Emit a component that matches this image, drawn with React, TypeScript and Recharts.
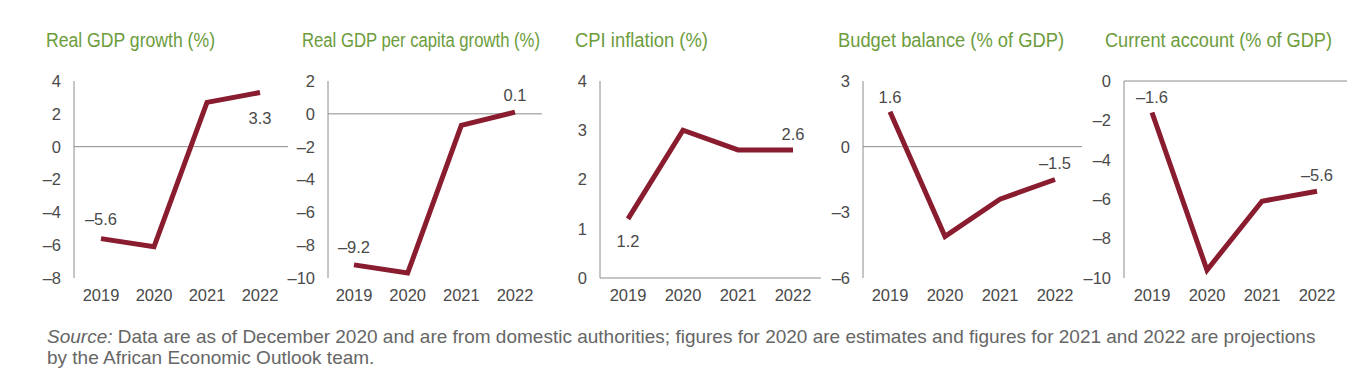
import { LineChart, Line, XAxis, YAxis, ReferenceLine } from 'recharts';

const years = ['2019', '2020', '2021', '2022'];

const gdpGrowth = [-5.6, -6.1, 2.7, 3.3];
const gdpPerCapitaGrowth = [-9.2, -9.7, -0.7, 0.1];
const cpiInflation = [1.2, 3.0, 2.6, 2.6];
const budgetBalance = [1.6, -4.1, -2.4, -1.5];
const currentAccount = [-1.6, -9.6, -6.1, -5.6];

const gdpTicks = [-8, -6, -4, -2, 0, 2, 4];
const perCapitaTicks = [-10, -8, -6, -4, -2, 0, 2];
const cpiTicks = [0, 1, 2, 3, 4];
const budgetTicks = [-6, -3, 0, 3];
const accountTicks = [-10, -8, -6, -4, -2, 0];

const titles = [
  'Real GDP growth (%)',
  'Real GDP per capita growth (%)',
  'CPI inflation (%)',
  'Budget balance (% of GDP)',
  'Current account (% of GDP)',
];

const LINE_COLOR = '#8a1c2f';
const AXIS_COLOR = '#8c8c8c';
const TEXT_COLOR = '#4a4a4a';
const TITLE_COLOR = '#6c9c3c';
const FONT = '"Liberation Sans", Arial, sans-serif';

// layout of each small panel (page pixels)
const panels = [
  { values: gdpGrowth, ticks: gdpTicks, axisX: 74, axisEnd: 288, pad: [27, 28], labelDy: [-20, 26], titleX: 46, titleW: 169 },
  { values: gdpPerCapitaGrowth, ticks: perCapitaTicks, axisX: 328, axisEnd: 542, pad: [26, 27], labelDy: [-18, -17], titleX: 302, titleW: 238 },
  { values: cpiInflation, ticks: cpiTicks, axisX: 600, axisEnd: 821, pad: [28, 28], labelDy: [22, -16], titleX: 575, titleW: 133 },
  { values: budgetBalance, ticks: budgetTicks, axisX: 863, axisEnd: 1082, pad: [27, 27], labelDy: [-15, -17], titleX: 838, titleW: 226 },
  { values: currentAccount, ticks: accountTicks, axisX: 1124, axisEnd: 1347, pad: [28, 30], labelDy: [-16, -16], titleX: 1105, titleW: 227 },
];

const fmt = (v: number) => String(v).replace('-', '\u2013');
const fmtLabel = (v: number) => v.toFixed(1).replace('-', '\u2013');

function Panel({ cfg }: { cfg: (typeof panels)[number] }) {
  const data = years.map((year, i) => ({ year, value: cfg.values[i] }));
  const chartLeft = cfg.axisX - 44;
  const width = cfg.axisEnd - cfg.axisX + 48;

  const renderLabel = (props: any) => {
    const { x, y, index, value } = props;
    if (index !== 0 && index !== years.length - 1) return null;
    const dy = index === 0 ? cfg.labelDy[0] : cfg.labelDy[1];
    return (
      <text
        key={`lbl-${index}`}
        x={x}
        y={y + dy}
        textAnchor="middle"
        dominantBaseline="central"
        fontSize={16.5}
        fill={TEXT_COLOR}
        fontFamily={FONT}
      >
        {fmtLabel(value)}
      </text>
    );
  };

  return (
    <div style={{ position: 'absolute', left: chartLeft, top: 60 }}>
      <LineChart width={width} height={250} data={data} margin={{ top: 21, right: 4, left: 4, bottom: 0 }}>
        <XAxis
          dataKey="year"
          axisLine={false}
          tickLine={false}
          tickSize={0}
          tickMargin={11}
          height={32}
          padding={{ left: cfg.pad[0], right: cfg.pad[1] }}
          tick={{ fill: TEXT_COLOR, fontSize: 16.5, fontFamily: FONT }}
          interval={0}
        />
        <YAxis
          width={40}
          domain={[cfg.ticks[0], cfg.ticks[cfg.ticks.length - 1]]}
          ticks={cfg.ticks}
          tickFormatter={fmt}
          axisLine={{ stroke: AXIS_COLOR, strokeWidth: 1 }}
          tickLine={false}
          tickSize={0}
          tickMargin={13}
          tick={{ fill: TEXT_COLOR, fontSize: 16.5, fontFamily: FONT }}
          interval={0}
        />
        <ReferenceLine y={0} stroke={AXIS_COLOR} strokeWidth={1} />
        <Line
          dataKey="value"
          stroke={LINE_COLOR}
          strokeWidth={5}
          dot={false}
          type="linear"
          isAnimationActive={false}
          label={renderLabel}
        />
      </LineChart>
    </div>
  );
}

export default function App() {
  return (
    <div
      style={{
        position: 'absolute',
        left: 0,
        top: 0,
        width: 1364,
        height: 384,
        background: '#fff',
        fontFamily: FONT,
        overflow: 'hidden',
      }}
    >
      <svg width={1364} height={60} style={{ position: 'absolute', left: 0, top: 0 }}>
        {titles.map((t, i) => (
          <text
            key={t}
            x={panels[i].titleX}
            y={47}
            fontSize={19.5}
            fill={TITLE_COLOR}
            fontFamily={FONT}
            textLength={panels[i].titleW}
            lengthAdjust="spacingAndGlyphs"
          >
            {t}
          </text>
        ))}
      </svg>
      {panels.map((cfg, i) => (
        <Panel key={i} cfg={cfg} />
      ))}
      <div
        style={{
          position: 'absolute',
          left: 47,
          top: 326,
          fontSize: 19,
          lineHeight: '21px',
          color: '#666',
          whiteSpace: 'nowrap',
        }}
      >
        <i>Source:</i> Data are as of December 2020 and are from domestic authorities; figures for 2020 are estimates and
        figures for 2021 and 2022 are projections
        <br />
        by the African Economic Outlook team.
      </div>
    </div>
  );
}
